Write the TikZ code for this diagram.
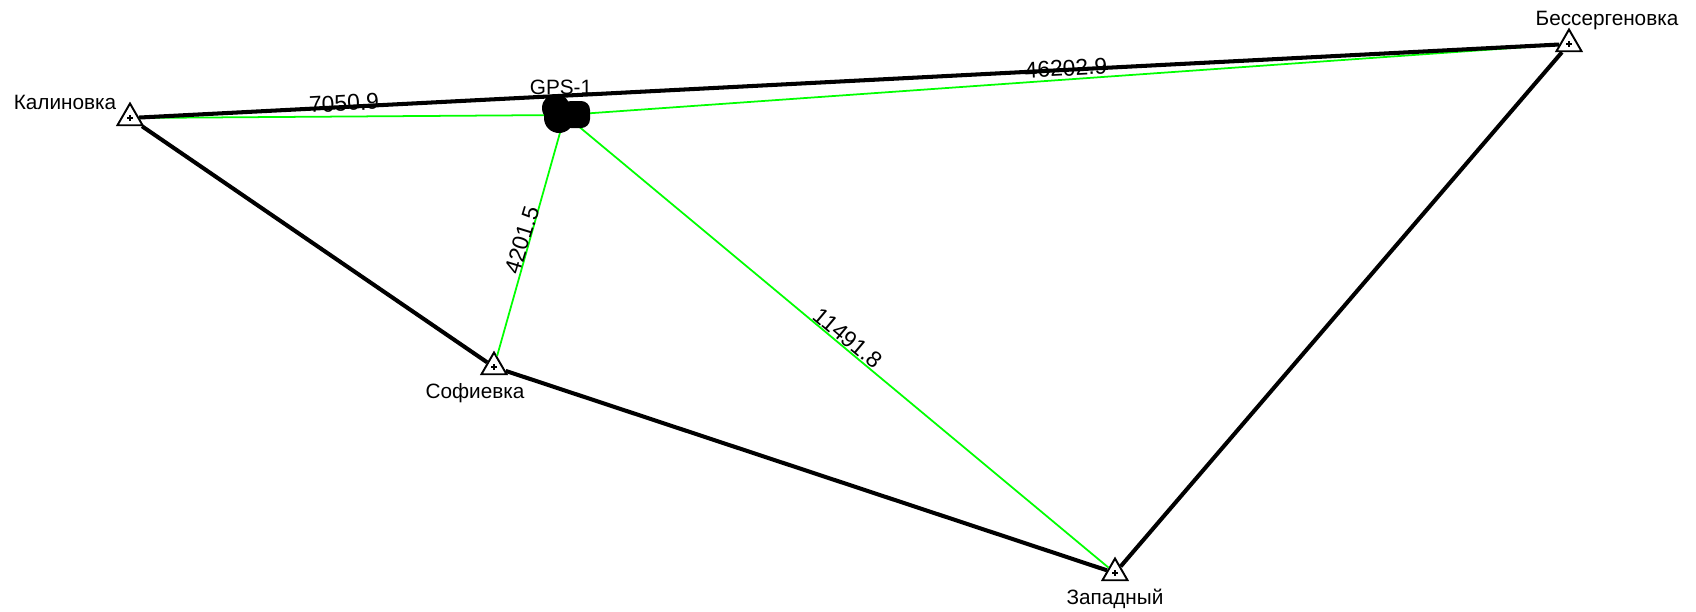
\documentclass[tikz,border=0pt]{standalone}
\usepackage{fontspec}
\setmainfont{Liberation Sans}
\usetikzlibrary{shapes.geometric}
\tikzset{
    station/.style={draw,fill=white,regular polygon,regular polygon sides=3,minimum size=29*0.01cm,inner sep=0pt,line width=0.55pt},
    stationname/.style={inner sep=0pt,font=\fontsize{5.9}{7}\selectfont},
    lengthlabel/.style={inner sep=0pt,font=\fontsize{6.5}{8}\selectfont},
    heavyline/.style={line width=1.15pt,black},
    gpsline/.style={line width=0.5pt,green}
}

\begin{document}
\begin{tikzpicture}[x=0.01cm,y=-0.01cm]
    \useasboundingbox (0,0) rectangle (1696,611);
    \node[station] (kalinovka) at (130,118) {};
    \node[station] (sofievka) at (494,367) {};
    \node[station] (zapadny) at (1115,573) {};
    \node[station] (bessergenovka) at (1569,44) {};
    \coordinate (gps) at (565,115);
    \foreach \st in {kalinovka,sofievka,zapadny,bessergenovka} {
        \draw[line width=0.5pt] (\st.center) ++(-3,0) -- ++(6,0);
        \draw[line width=0.5pt] (\st.center) ++(0,-3) -- ++(0,6);
    }
    \draw[gpsline] (kalinovka) -- (gps);
    \draw[gpsline] (gps) -- (bessergenovka);
    \draw[gpsline] (gps) -- (sofievka);
    \draw[gpsline] (gps) -- (zapadny);
    \draw[heavyline] (kalinovka) -- (bessergenovka);
    \draw[heavyline] (kalinovka) -- (sofievka);
    \draw[heavyline] (sofievka) -- (zapadny);
    \draw[heavyline] (zapadny) -- (bessergenovka);
    \fill (556,108) circle (14);
    \fill (559,118) circle (15);
    \fill[rounded corners=2.5pt] (562,101) rectangle (590,128);
    \node[stationname] (namekalinovka) at (65,102) {Калиновка};
    \node[stationname] (namesofievka) at (475,393) {Софиевка};
    \node[stationname] (namezapadny) at (1115,599) {Западный};
    \node[stationname] (namebessergenovka) at (1607,21) {Бессергеновка};
    \node[stationname] (namegps) at (561,87) {GPS-1};
    \node[lengthlabel,rotate=3] (len1) at (344,103) {7050.9};
    \node[lengthlabel,rotate=3] (len2) at (1066,68) {46202.9};
    \node[lengthlabel,rotate=73] (len3) at (522,240) {4201.5};
    \node[lengthlabel,rotate=-40] (len4) at (848,338) {11491.8};
\end{tikzpicture}
\end{document}
